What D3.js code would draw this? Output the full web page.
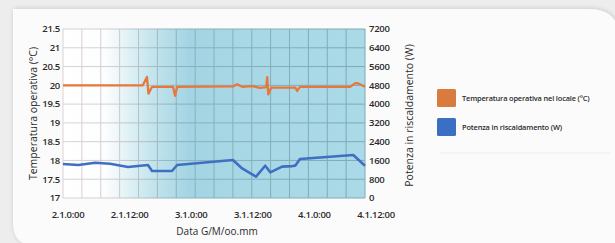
<!DOCTYPE html>
<html lang="it">
<head>
  <meta charset="UTF-8">
  <script src="https://d3js.org/d3.v7.min.js"></script>
  <style>
    body { margin: 0; background: #ededed; }
    svg { display: block; }
    text { font-family: "Open Sans", sans-serif; fill: #2a2a2a; }
  </style>
</head>
<body>
  <div id="chart"></div>
  <script>
    // hours from 2.1 0:00
    var tempHours = [-1, 14.6, 15.4, 15.7, 16.4, 20.5, 20.9, 21.3, 32.2, 33.0, 34.0, 36.0, 37.5, 38.7, 38.9, 39.1, 39.7, 44.4, 44.75, 45.3, 55.1, 56.1, 56.7, 58];
    var tempValues = [20.0, 20.0, 20.22, 19.78, 19.96, 19.96, 19.72, 19.96, 19.97, 20.03, 19.96, 19.98, 19.93, 19.95, 20.22, 19.76, 19.94, 19.94, 19.85, 19.96, 19.96, 20.06, 20.05, 19.96];
    var powerHours = [-1, 2.0, 5.3, 8.2, 11.7, 15.6, 16.4, 20.3, 21.3, 32.2, 34.0, 36.7, 38.5, 39.5, 41.8, 43.8, 44.4, 45.3, 55.7, 58];
    var powerValues = [1450, 1405, 1500, 1460, 1320, 1405, 1150, 1150, 1405, 1620, 1260, 910, 1375, 1095, 1335, 1360, 1380, 1660, 1830, 1375];
    var xTickHours = [0, 12, 24, 36, 48, 60];
    var xTickLabels = ["2.1.0:00", "2.1.12:00", "3.1.0:00", "3.1.12:00", "4.1.0:00", "4.1.12:00"];
    var leftTicks = [17, 17.5, 18, 18.5, 19, 19.5, 20, 20.5, 21, 21.5];
    var rightTicks = [0, 800, 1600, 2400, 3200, 4000, 4800, 5600, 6400, 7200];
    var legendLabels = ["Temperatura operativa nel locale (°C)", "Potenza in riscaldamento (W)"];

    var width = 615, height = 243;
    var pL = 63, pR = 365, pT = 29, pB = 198;
    var orange = "#e8773a", blue = "#3f6fc2";

    var svg = d3.select("#chart").append("svg")
      .attr("width", width).attr("height", height);

    var defs = svg.append("defs");
    var shadow = defs.append("filter").attr("id", "sh")
      .attr("x", "-5%").attr("y", "-10%").attr("width", "110%").attr("height", "120%");
    shadow.append("feDropShadow").attr("dx", 1).attr("dy", 0).attr("stdDeviation", 2.5)
      .attr("flood-color", "#000").attr("flood-opacity", 0.18);

    var grad = defs.append("linearGradient").attr("id", "bg")
      .attr("gradientUnits", "userSpaceOnUse")
      .attr("x1", pL).attr("x2", pR).attr("y1", 0).attr("y2", 0);
    grad.append("stop").attr("offset", "0").attr("stop-color", "#ffffff");
    grad.append("stop").attr("offset", "0.14").attr("stop-color", "#fcfdfe");
    grad.append("stop").attr("offset", "0.3").attr("stop-color", "#c2e4ed");
    grad.append("stop").attr("offset", "0.42").attr("stop-color", "#a3d4e3");
    grad.append("stop").attr("offset", "0.6").attr("stop-color", "#a8d8e6");
    grad.append("stop").attr("offset", "1").attr("stop-color", "#aad9e7");

    var gridGrad = defs.append("linearGradient").attr("id", "gg")
      .attr("gradientUnits", "userSpaceOnUse")
      .attr("x1", pL).attr("x2", pR).attr("y1", 0).attr("y2", 0);
    gridGrad.append("stop").attr("offset", "0").attr("stop-color", "#ddd2d2");
    gridGrad.append("stop").attr("offset", "0.16").attr("stop-color", "#d6cccc");
    gridGrad.append("stop").attr("offset", "0.38").attr("stop-color", "#8bb1bc");
    gridGrad.append("stop").attr("offset", "1").attr("stop-color", "#80a8b4");

    // card
    svg.append("path")
      .attr("d", "M13,9 H588 Q615,9 618,30 V245 H30 Q13,243 13,222 Z")
      .attr("fill", "#fbfbfb")
      .attr("filter", "url(#sh)");

    var x = d3.scaleLinear().domain([-1, 58]).range([pL, pR]);
    var yT = d3.scaleLinear().domain([17, 21.5]).range([pB, pT]);
    var yP = d3.scaleLinear().domain([0, 7200]).range([pB, pT]);

    svg.append("rect")
      .attr("x", pL).attr("y", pT)
      .attr("width", pR - pL).attr("height", pB - pT)
      .attr("fill", "url(#bg)");

    // grid: 16 columns, horizontal lines on ticks
    var cols = d3.range(17).map(function (i) { return x.invert(pL + i * (pR - pL) / 16); });
    var grid = svg.append("g").attr("stroke", "url(#gg)").attr("stroke-width", 1);
    grid.selectAll(".v").data(cols).enter().append("line")
      .attr("x1", function (d) { return x(d); }).attr("x2", function (d) { return x(d); })
      .attr("y1", pT).attr("y2", pB);
    grid.selectAll(".h").data(leftTicks).enter().append("rect")
      .attr("x", pL).attr("width", pR - pL).attr("height", 1)
      .attr("y", function (d) { return yT(d) - 0.5; })
      .attr("stroke", "none").attr("fill", "url(#gg)");

    // lines
    var tempData = tempHours.map(function (h, i) { return [h, tempValues[i]]; });
    var powerData = powerHours.map(function (h, i) { return [h, powerValues[i]]; });

    svg.append("path").datum(tempData)
      .attr("fill", "none").attr("stroke", orange).attr("stroke-width", 2.3)
      .attr("stroke-linejoin", "round")
      .attr("d", d3.line().x(function (d) { return x(d[0]); }).y(function (d) { return yT(d[1]); }));

    svg.append("path").datum(powerData)
      .attr("fill", "none").attr("stroke", blue).attr("stroke-width", 2.6)
      .attr("stroke-linejoin", "round")
      .attr("d", d3.line().x(function (d) { return x(d[0]); }).y(function (d) { return yP(d[1]); }));

    // axes
    var tickFont = "9.5px";
    svg.append("g").selectAll("text").data(leftTicks).enter().append("text")
      .attr("x", pL - 3).attr("y", function (d) { return yT(d); }).attr("dy", "0.35em")
      .attr("text-anchor", "end").style("font-size", tickFont).style("font-weight", 600)
      .attr("letter-spacing", "-0.3")
      .text(function (d) { return d3.format("")(d); });

    svg.append("g").selectAll("text").data(rightTicks).enter().append("text")
      .attr("x", pR + 4).attr("y", function (d) { return yP(d); }).attr("dy", "0.35em")
      .attr("text-anchor", "start").style("font-size", tickFont).style("font-weight", 600)
      .attr("letter-spacing", "-0.3")
      .text(function (d) { return d; });

    var xl = d3.scaleLinear().domain([0, 60]).range([68, 376]);
    svg.append("g").selectAll("text").data(xTickHours).enter().append("text")
      .attr("x", function (d) { return xl(d); }).attr("y", 215)
      .attr("dy", "0.35em").attr("text-anchor", "middle").style("font-size", tickFont)
      .style("font-weight", 600).attr("letter-spacing", "-0.3")
      .text(function (d, i) { return xTickLabels[i]; });

    svg.append("text")
      .attr("transform", "translate(33," + (pT + pB) / 2 + ") rotate(-90)")
      .attr("text-anchor", "middle").attr("dy", "0.35em").style("font-size", "10.5px")
      .text("Temperatura operativa (°C)");

    svg.append("text")
      .attr("transform", "translate(409," + ((pT + pB) / 2 + 2) + ") rotate(-90)")
      .attr("text-anchor", "middle").attr("dy", "0.35em").style("font-size", "10.5px")
      .text("Potenza in riscaldamento (W)");

    svg.append("text")
      .attr("x", (pL + pR) / 2 + 3).attr("y", 231).attr("dy", "0.35em")
      .attr("text-anchor", "middle").style("font-size", "10px")
      .text("Data G/M/oo.mm");

    // legend
    var legendColors = ["#d97a3e", "#3a6fc3"];
    var lg = svg.append("g").selectAll("g").data(legendLabels).enter().append("g")
      .attr("transform", function (d, i) { return "translate(437," + (89 + i * 29) + ")"; });
    lg.append("rect").attr("width", 19).attr("height", 18).attr("rx", 1.5)
      .attr("fill", function (d, i) { return legendColors[i]; });
    lg.append("text").attr("x", 25).attr("y", 9).attr("dy", "0.35em")
      .style("font-size", "7.4px").style("font-weight", 600).attr("letter-spacing", "-0.15")
      .text(function (d) { return d; });

    svg.append("line").attr("x1", 440).attr("x2", 610).attr("y1", 153).attr("y2", 153)
      .attr("stroke", "#f0f0f0").attr("stroke-width", 1.5);
  </script>
</body>
</html>
